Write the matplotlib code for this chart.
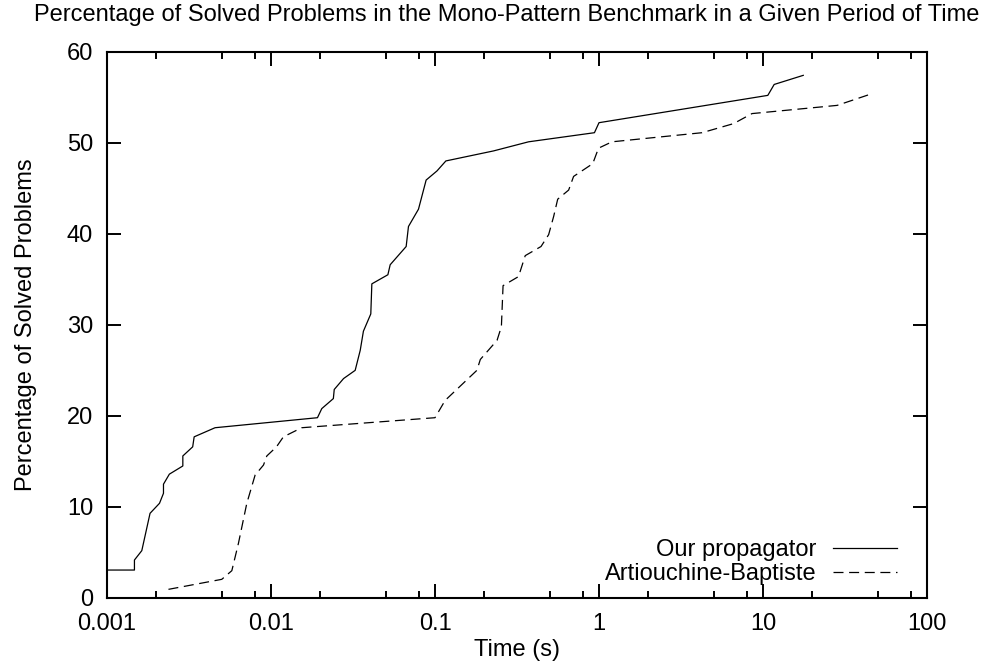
import matplotlib
matplotlib.use("Agg")
import matplotlib.pyplot as plt
from matplotlib.ticker import LogLocator, NullFormatter, FixedLocator, FixedFormatter

plt.rcParams['font.family'] = ['Liberation Sans', 'DejaVu Sans']

# data: time (s) vs percentage solved
ours_t = [0.001, 0.00147, 0.00147, 0.00163, 0.00183, 0.00209, 0.00221, 0.00221,
          0.0024, 0.0029, 0.0029, 0.00333, 0.0034, 0.00456, 0.0192, 0.0204,
          0.024, 0.0243, 0.0277, 0.0326, 0.035, 0.0366, 0.0406, 0.0412,
          0.0516, 0.0533, 0.0667, 0.0689, 0.0793, 0.0883, 0.1028, 0.1165,
          0.2275, 0.372, 0.938, 1.0, 10.7, 11.7, 17.6]
ours_p = [3.07, 3.07, 4.17, 5.2, 9.3, 10.4, 11.5, 12.5,
          13.6, 14.5, 15.6, 16.6, 17.7, 18.7, 19.8, 20.8,
          21.9, 22.9, 24.1, 25.0, 27.2, 29.3, 31.2, 34.5,
          35.5, 36.6, 38.6, 40.8, 42.7, 45.9, 46.9, 48.0,
          49.1, 50.1, 51.1, 52.2, 55.2, 56.4, 57.4]

ab_t = [0.00237, 0.00501, 0.00577, 0.00633, 0.00712, 0.008, 0.009, 0.00943,
        0.0108, 0.0119, 0.0154, 0.1, 0.1153, 0.180, 0.189, 0.239, 0.254,
        0.260, 0.323, 0.355, 0.443, 0.493, 0.529, 0.56, 0.653, 0.70, 0.916,
        0.993, 1.2, 4.25, 6.62, 8.57, 28.3, 46.4]
ab_p = [0.95, 2.05, 3.0, 6.0, 10.4, 13.5, 14.6, 15.6,
        16.6, 17.7, 18.7, 19.8, 21.7, 25.0, 26.2, 28.3, 29.8,
        34.3, 35.3, 37.6, 38.6, 39.9, 41.9, 43.8, 44.8, 46.3, 47.7,
        49.4, 50.1, 51.1, 52.1, 53.2, 54.1, 55.4]

x_ticks = [0.001, 0.01, 0.1, 1, 10, 100]
x_labels = ["0.001", "0.01", "0.1", "1", "10", "100"]
y_ticks = [0, 10, 20, 30, 40, 50, 60]

fs = 17

fig = plt.figure(figsize=(10, 6.71), dpi=100, facecolor='w')
ax = fig.add_axes([0.107, 0.1088, 0.820, 0.8142])

ax.plot(ours_t, ours_p, color='k', lw=0.9, label="Our propagator")
ax.plot(ab_t, ab_p, color='k', lw=0.9, linestyle=(0, (8, 4.5)),
        label="Artiouchine-Baptiste")

ax.set_xscale('log')
ax.set_xlim(0.001, 100)
ax.set_ylim(0, 60)

ax.xaxis.set_major_locator(FixedLocator(x_ticks))
ax.xaxis.set_major_formatter(FixedFormatter(x_labels))
ax.xaxis.set_minor_locator(LogLocator(base=10, subs=[2, 5, 8]))
ax.xaxis.set_minor_formatter(NullFormatter())
ax.set_yticks(y_ticks)

ax.tick_params(which='both', direction='in', top=True, right=True,
               width=1.4, labelsize=fs, color='k')
ax.tick_params(which='major', length=10)
ax.tick_params(which='minor', length=5)
ax.tick_params(axis='x', which='major', pad=11)
ax.tick_params(axis='y', which='major', pad=10)
for s in ax.spines.values():
    s.set_linewidth(1.5)

fig.text(0.507, 0.977, "Percentage of Solved Problems in the Mono-Pattern Benchmark in a Given Period of Time",
         ha='center', va='center', fontsize=fs)
fig.text(0.517, 0.031, "Time (s)", ha='center', va='center', fontsize=fs)
fig.text(0.026, 0.516, "Percentage of Solved Problems", ha='center', va='center',
         rotation=90, fontsize=fs)

ax.legend(loc='lower right', bbox_to_anchor=(0.963, 0.024), frameon=False,
          markerfirst=False, fontsize=fs, handlelength=2.7, handletextpad=0.7,
          labelspacing=0.08, borderpad=0, borderaxespad=0)

fig.savefig("out.png", dpi=100, facecolor='w')
